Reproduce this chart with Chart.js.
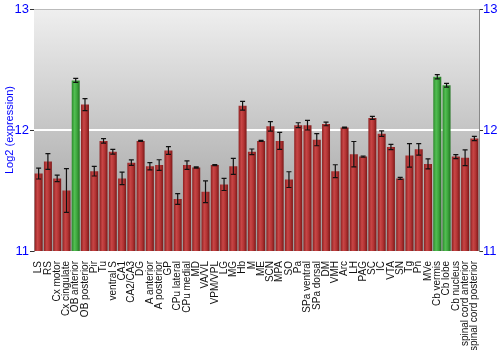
<!DOCTYPE html>
<html>
<head>
<meta charset="utf-8">
<script src="https://cdn.jsdelivr.net/npm/chart.js@4.4.0/dist/chart.umd.min.js"></script>
<style>
  html, body { margin: 0; padding: 0; background: #fff; }
  #wrap { width: 500px; height: 350px; position: relative; }
</style>
</head>
<body>
<div id="wrap"><canvas id="exprChart"></canvas></div>
<script>
// regions (x axis)
var regions = ["LS", "RS", "Cx motor", "Cx cingulate", "OB anterior", "OB posterior", "Pir", "Tu",
  "ventral S", "CA1", "CA2/CA3", "DG", "A anterior", "A posterior", "GP", "CPu lateral", "CPu medial",
  "MD", "VA/VL", "VPM/VPL", "LG", "MG", "Hb", "M", "ME", "SCN", "MPA", "SO", "Pa", "SPa ventral",
  "SPa dorsal", "DM", "VMH", "Arc", "LH", "PAG", "SC", "IC", "VTA", "SN", "Tg", "Pn", "MVe",
  "Cb vermis", "Cb lobe", "Cb nucleus", "spinal cord anterior", "spinal cord posterior"];
// mean log2 expression
var expression = [11.64, 11.74, 11.60, 11.50, 12.41, 12.21, 11.66, 11.91,
  11.82, 11.60, 11.73, 11.91, 11.70, 11.71, 11.83, 11.43, 11.71,
  11.69, 11.49, 11.71, 11.55, 11.70, 12.20, 11.82, 11.91, 12.03, 11.91, 11.59, 12.04, 12.04,
  11.92, 12.05, 11.66, 12.02, 11.80, 11.78, 12.10, 11.97, 11.86, 11.60, 11.79, 11.84, 11.72,
  12.44, 12.37, 11.78, 11.77, 11.93];
// error bar half-lengths
var errors = [0.045, 0.065, 0.027, 0.18, 0.017, 0.05, 0.04, 0.018,
  0.02, 0.052, 0.023, 0.005, 0.03, 0.044, 0.032, 0.045, 0.035,
  0.005, 0.09, 0.005, 0.05, 0.066, 0.036, 0.023, 0.005, 0.04, 0.07, 0.065, 0.02, 0.04,
  0.05, 0.015, 0.053, 0.005, 0.105, 0.005, 0.012, 0.023, 0.022, 0.008, 0.097, 0.047, 0.041,
  0.017, 0.015, 0.017, 0.065, 0.017];
// regions shown in green
var highlighted = ["OB anterior", "Cb vermis", "Cb lobe"];
var yTicks = [11, 12, 13];

var BLUE = "#0000ff";

function isGreen(i) {
  return highlighted.indexOf(regions[i]) >= 0;
}

function barFill(context) {
  var chart = context.chart;
  var xs = chart.scales.x;
  var i = context.dataIndex;
  var flat = isGreen(i) ? "#3ea63e" : "#b33434";
  if (!xs || i === undefined) return flat;
  var x = xs.getPixelForValue(i);
  var w = (xs.width / regions.length) * 0.86;
  if (!isFinite(x) || !isFinite(w) || w <= 0) return flat;
  var g = chart.ctx.createLinearGradient(x - w / 2, 0, x + w / 2, 0);
  if (isGreen(i)) {
    g.addColorStop(0, "#2c8a2c");
    g.addColorStop(0.35, "#52be52");
    g.addColorStop(0.65, "#3ea63e");
    g.addColorStop(1, "#217521");
  } else {
    g.addColorStop(0, "#8e2020");
    g.addColorStop(0.35, "#c84646");
    g.addColorStop(0.65, "#b33434");
    g.addColorStop(1, "#7c1818");
  }
  return g;
}

var backdrop = {
  id: "backdrop",
  beforeDatasetsDraw: function (chart) {
    var a = chart.chartArea, c = chart.ctx;
    c.save();
    var g = c.createLinearGradient(0, a.top, 0, a.bottom);
    g.addColorStop(0, "#efefef");
    g.addColorStop(1, "#9a9a9a");
    c.fillStyle = g;
    c.fillRect(a.left, a.top, a.right - a.left, a.bottom - a.top);
    // white line at 12
    var y12 = chart.scales.y.getPixelForValue(12);
    c.strokeStyle = "#ffffff";
    c.lineWidth = 2;
    c.beginPath();
    c.moveTo(a.left, y12);
    c.lineTo(a.right, y12);
    c.stroke();
    c.strokeStyle = "#bbbbbb";
    c.lineWidth = 1;
    c.beginPath();
    c.moveTo(a.left, a.top + 0.5);
    c.lineTo(a.right, a.top + 0.5);
    c.stroke();
    c.restore();
  }
};

var errorBars = {
  id: "errorBars",
  afterDatasetsDraw: function (chart) {
    var meta = chart.getDatasetMeta(0), ys = chart.scales.y, c = chart.ctx;
    c.save();
    c.strokeStyle = "#111";
    c.lineWidth = 1.2;
    meta.data.forEach(function (bar, i) {
      var top = ys.getPixelForValue(expression[i] + errors[i]);
      var bot = ys.getPixelForValue(expression[i] - errors[i]);
      c.beginPath();
      c.moveTo(bar.x, top); c.lineTo(bar.x, bot);
      c.moveTo(bar.x - 2.5, top); c.lineTo(bar.x + 2.5, top);
      c.moveTo(bar.x - 2.5, bot); c.lineTo(bar.x + 2.5, bot);
      c.stroke();
    });
    c.restore();
  }
};

var ctx = document.getElementById("exprChart").getContext("2d");
var myChart = new Chart(ctx, {
  type: "bar",
  plugins: [backdrop, errorBars],
  data: {
    labels: regions,
    datasets: [{
      data: expression,
      backgroundColor: barFill,
      borderWidth: 0,
      barPercentage: 0.86,
      categoryPercentage: 1.0
    }]
  },
  options: {
    responsive: true,
    maintainAspectRatio: false,
    animation: false,
    layout: { padding: { top: 9, left: 0, right: 0, bottom: 0 } },
    plugins: {
      legend: { display: false },
      tooltip: { enabled: false }
    },
    scales: {
      x: {
        grid: { display: false },
        border: { display: false },
        ticks: {
          autoSkip: false,
          minRotation: 90,
          maxRotation: 90,
          padding: 2,
          color: "#111",
          font: { family: "'Liberation Sans', Arial, sans-serif", size: 10 }
        },
        afterFit: function (s) { s.height = 99; }
      },
      y: {
        position: "left",
        min: 11,
        max: 13,
        afterBuildTicks: function (s) { s.ticks = yTicks.map(function (v) { return { value: v }; }); },
        grid: {
          drawOnChartArea: false,
          tickLength: 4,
          tickColor: "#333"
        },
        border: { color: "#888", width: 1 },
        ticks: {
          padding: 1,
          color: BLUE,
          font: { family: "'Liberation Sans', Arial, sans-serif", size: 13 }
        },
        title: {
          display: true,
          text: "Log2 (expression)",
          color: BLUE,
          padding: { top: 3, bottom: 0 },
          font: { family: "'Liberation Sans', Arial, sans-serif", size: 11 }
        },
        afterFit: function (s) { s.width = 34; }
      },
      y2: {
        position: "right",
        min: 11,
        max: 13,
        afterBuildTicks: function (s) { s.ticks = yTicks.map(function (v) { return { value: v }; }); },
        grid: {
          drawOnChartArea: false,
          tickLength: 4,
          tickColor: "#333"
        },
        border: { color: "#888", width: 1 },
        ticks: {
          padding: 0,
          color: BLUE,
          font: { family: "'Liberation Sans', Arial, sans-serif", size: 13 }
        },
        afterFit: function (s) { s.width = 21; }
      }
    }
  }
});
</script>
</body>
</html>
